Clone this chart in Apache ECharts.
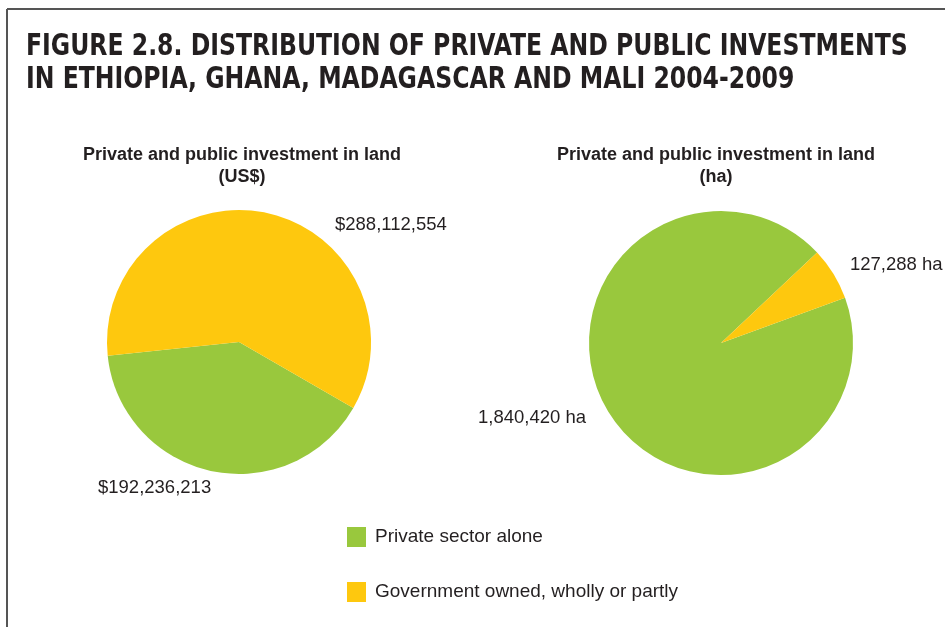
<!DOCTYPE html>
<html>
<head>
<meta charset="utf-8">
<script src="https://cdn.jsdelivr.net/npm/echarts@6/dist/echarts.min.js"></script>
<style>
  html, body { margin: 0; padding: 0; background: #fff; }
  #chart { width: 945px; height: 627px; }
</style>
</head>
<body>
<div id="chart"></div>
<script>
// Categories shared by both pies
const categories = ['Private sector alone', 'Government owned, wholly or partly'];
// Investment value in US$
const usdValues = [192236213, 288112554];
// Land area in hectares
const haValues = [1840420, 127288];

const GREEN = '#99c83d';
const YELLOW = '#fec80e';
const TEXT = '#231f20';
const FONT = '"Liberation Sans", Arial, Helvetica, sans-serif';

function withCommas(n) {
  return String(n).replace(/\B(?=(\d{3})+(?!\d))/g, ',');
}

// Label anchor points (left edge, vertical middle) for each slice
const usdLabelPos = [[98, 488], [335, 225]];
const haLabelPos = [[478, 418], [850, 265]];

function pieSeries(values, center, startAngle, fmt, labelPos) {
  return {
    type: 'pie',
    center: center,
    radius: 132,
    startAngle: startAngle,
    clockwise: true,
    silent: true,
    animation: false,
    data: categories.map((name, i) => ({ name: name, value: values[i] })),
    label: {
      show: true,
      position: 'outside',
      alignTo: 'none',
      overflow: 'none',
      formatter: p => fmt(p.value),
      fontFamily: FONT,
      fontSize: 18.5,
      color: TEXT
    },
    labelLine: { show: false },
    labelLayout: p => ({
      x: labelPos[p.dataIndex][0],
      y: labelPos[p.dataIndex][1],
      width: 200,
      align: 'left',
      verticalAlign: 'middle'
    })
  };
}

const chart = echarts.init(document.getElementById('chart'));
chart.setOption({
  backgroundColor: '#fff',
  color: [GREEN, YELLOW],
  animation: false,
  title: [
    {
      text: 'Private and public investment in land\n(US$)',
      left: 242,
      top: 144,
      padding: 0,
      textAlign: 'center',
      textStyle: { fontFamily: FONT, fontWeight: 'bold', fontSize: 18, lineHeight: 22, color: TEXT }
    },
    {
      text: 'Private and public investment in land\n(ha)',
      left: 716,
      top: 144,
      padding: 0,
      textAlign: 'center',
      textStyle: { fontFamily: FONT, fontWeight: 'bold', fontSize: 18, lineHeight: 22, color: TEXT }
    }
  ],
  legend: {
    data: categories,
    orient: 'vertical',
    left: 347,
    top: 527,
    padding: 0,
    icon: 'rect',
    itemWidth: 19,
    itemHeight: 20,
    itemGap: 35,
    selectedMode: false,
    textStyle: { fontFamily: FONT, fontSize: 19, color: TEXT, padding: [0, 0, 0, 4] }
  },
  graphic: [
    // frame: top rule and left rule
    { type: 'line', silent: true, shape: { x1: 7, y1: 9, x2: 945, y2: 9 }, style: { stroke: '#555', lineWidth: 2 } },
    { type: 'line', silent: true, shape: { x1: 7, y1: 9, x2: 7, y2: 627 }, style: { stroke: '#555', lineWidth: 2 } },
    // condensed bold figure heading
    {
      type: 'text',
      silent: true,
      x: 26,
      y: 31,
      scaleX: 0.873,
      style: {
        text: 'FIGURE 2.8. DISTRIBUTION OF PRIVATE AND PUBLIC INVESTMENTS\nIN ETHIOPIA, GHANA, MADAGASCAR AND MALI 2004-2009',
        font: 'bold 30px "DejaVu Sans Condensed", "Liberation Sans Narrow", sans-serif',
        lineHeight: 33,
        fill: TEXT
      }
    }
  ],
  series: [
    pieSeries(usdValues, [239, 342], -30, v => '$' + withCommas(v), usdLabelPos),
    pieSeries(haValues, [721, 343], 20, v => withCommas(v) + ' ha', haLabelPos)
  ]
});
</script>
</body>
</html>
